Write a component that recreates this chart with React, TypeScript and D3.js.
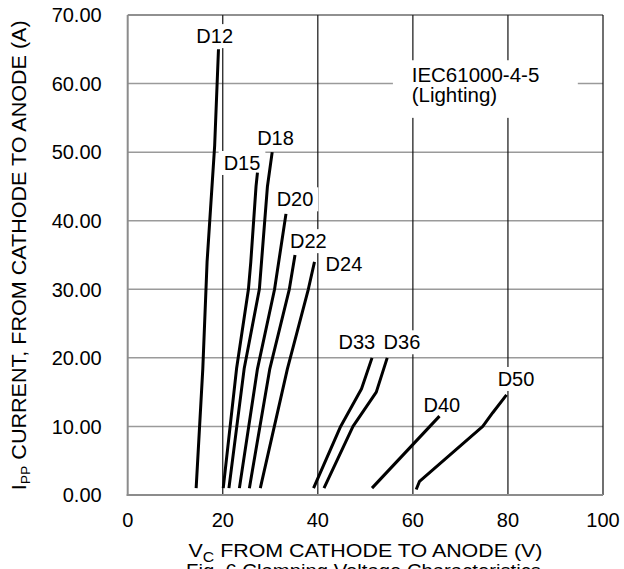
import { useRef, useEffect } from 'react';
import * as d3 from 'd3';

// device names and the clamping curves (V in volts, I in amps)
const DEVICES = ['D12', 'D15', 'D18', 'D20', 'D22', 'D24', 'D33', 'D36', 'D40', 'D50'];

const D12_V = [14.4, 15.8, 16.7, 18.3, 19.1];
const D12_I = [1, 18.4, 34, 51, 65];
const D15_V = [20.1, 22.9, 25.4, 25.9, 27.0, 27.3];
const D15_I = [1, 18.4, 30, 34, 45, 47];
const D18_V = [21.3, 24.5, 27.7, 29.4, 30.4];
const D18_I = [1, 18.4, 30, 45, 50];
const D20_V = [23.5, 27.3, 30.9, 33.3];
const D20_I = [1, 18.4, 30, 41];
const D22_V = [25.6, 29.9, 34.0, 35.2];
const D22_I = [1, 18.4, 30, 35];
const D24_V = [27.9, 33.6, 38.0, 39.3];
const D24_I = [1, 18.4, 30, 34];
const D33_V = [39.1, 44.8, 49.2, 51.4];
const D33_I = [1, 10, 15.5, 20];
const D36_V = [41.3, 47.4, 52.3, 54.6];
const D36_I = [1, 10, 15, 20];
const D40_V = [51.4, 65.6];
const D40_I = [1, 11.5];
const D50_V = [60.7, 61.4, 74.7, 76.8, 79.7];
const D50_I = [0.8, 2, 10, 12, 14.6];

const VOLTS = [D12_V, D15_V, D18_V, D20_V, D22_V, D24_V, D33_V, D36_V, D40_V, D50_V];
const AMPS = [D12_I, D15_I, D18_I, D20_I, D22_I, D24_I, D33_I, D36_I, D40_I, D50_I];

const X_TICKS = [0, 20, 40, 60, 80, 100];
const Y_TICKS = [0, 10, 20, 30, 40, 50, 60, 70];

const NOTE_LINES = ['IEC61000-4-5', '(Lighting)'];

const W = 624, H = 569;
const FONT = '"Liberation Sans", Arial, sans-serif';

export default function App() {
  const svgRef = useRef<SVGSVGElement>(null);

  useEffect(() => {
    const svg = d3.select(svgRef.current);
    svg.selectAll('*').remove();

    const x = d3.scaleLinear().domain([0, 100]).range([127.7, 603]);
    const y = d3.scaleLinear().domain([0, 70]).range([495, 15]);

    svg.append('rect').attr('width', W).attr('height', H).attr('fill', '#fff');

    // grid: grey horizontals, black verticals
    svg.append('g').selectAll('line')
      .data(Y_TICKS.slice(1, -1))
      .join('line')
      .attr('x1', x(0)).attr('x2', x(100))
      .attr('y1', d => y(d)).attr('y2', d => y(d))
      .attr('stroke', '#9a9a9a').attr('stroke-width', 1.5);

    svg.append('g').selectAll('line')
      .data(X_TICKS.slice(1, -1))
      .join('line')
      .attr('x1', d => x(d)).attr('x2', d => x(d))
      .attr('y1', y(0)).attr('y2', y(70))
      .attr('stroke', '#111').attr('stroke-width', 1.2);

    // frame
    const frame = svg.append('g');
    frame.append('line').attr('x1', x(0)).attr('x2', x(100)).attr('y1', y(70)).attr('y2', y(70))
      .attr('stroke', '#222').attr('stroke-width', 1.2);
    frame.append('line').attr('x1', x(100)).attr('x2', x(100)).attr('y1', y(0)).attr('y2', y(70))
      .attr('stroke', '#111').attr('stroke-width', 1.2);
    frame.append('line').attr('x1', x(0)).attr('x2', x(0)).attr('y1', y(0) + 1).attr('y2', y(70))
      .attr('stroke', '#8c8c8c').attr('stroke-width', 2);
    frame.append('line').attr('x1', x(0) - 1).attr('x2', x(100)).attr('y1', y(0)).attr('y2', y(0))
      .attr('stroke', '#8c8c8c').attr('stroke-width', 2);

    const boxes = svg.append('g');
    const curves = svg.append('g');
    const texts = svg.append('g').attr('font-family', FONT).attr('fill', '#000');

    // note box
    boxes.append('rect')
      .attr('x', x(55.8)).attr('y', y(63.4))
      .attr('width', x(94.7) - x(55.8)).attr('height', y(55) - y(63.4))
      .attr('fill', '#fff');
    texts.selectAll('text.note')
      .data(NOTE_LINES)
      .join('text')
      .attr('class', 'note')
      .attr('x', x(59.75))
      .attr('y', (_, i) => y(60.2) + i * 19.7)
      .attr('font-size', 20.5)
      .text(d => d);

    const line = d3.line<[number, number]>()
      .x(d => x(d[0]))
      .y(d => y(d[1]))
      .curve(d3.curveLinear);

    curves.selectAll('path')
      .data(DEVICES.map((_, k) => VOLTS[k].map((v, j) => [v, AMPS[k][j]] as [number, number])))
      .join('path')
      .attr('d', line)
      .attr('fill', 'none')
      .attr('stroke', '#000')
      .attr('stroke-width', 3)
      .attr('stroke-linejoin', 'round')
      .attr('stroke-linecap', 'butt');

    // where each device name sits, in data units (centre, baseline)
    const labelAt: [number, number][] = [
      [18.3, 65.9], [24.05, 47.4], [31.1, 51.0], [35.2, 42.1], [38.0, 36.0],
      [45.5, 32.6], [48.2, 21.25], [57.7, 21.25], [66.1, 12.15], [81.7, 15.9],
    ];
    DEVICES.forEach((name, k) => {
      const t = texts.append('text')
        .attr('x', x(labelAt[k][0]))
        .attr('y', y(labelAt[k][1]))
        .attr('text-anchor', 'middle')
        .attr('font-size', 20)
        .text(name);
      const b = (t.node() as SVGTextElement).getBBox();
      boxes.append('rect')
        .attr('x', b.x - 5).attr('y', b.y - 1)
        .attr('width', b.width + 10).attr('height', b.height + 2)
        .attr('fill', '#fff');
    });

    // tick labels
    texts.selectAll('text.yt')
      .data(Y_TICKS)
      .join('text')
      .attr('class', 'yt')
      .attr('x', 101.7)
      .attr('y', d => y(d) + 7.3)
      .attr('text-anchor', 'end')
      .attr('font-size', 20)
      .text(d => d3.format('.2f')(d));

    texts.selectAll('text.xt')
      .data(X_TICKS)
      .join('text')
      .attr('class', 'xt')
      .attr('x', d => x(d))
      .attr('y', 526.7)
      .attr('text-anchor', 'middle')
      .attr('font-size', 20)
      .text(d => String(d));

    // axis titles
    const xt = texts.append('text')
      .attr('x', 365.5).attr('y', 557.3)
      .attr('text-anchor', 'middle')
      .attr('font-size', 19)
      .attr('textLength', 354)
      .attr('lengthAdjust', 'spacingAndGlyphs');
    xt.append('tspan').text('V');
    xt.append('tspan').attr('font-size', 14).attr('dy', 4.4).text('C');
    xt.append('tspan').attr('dy', -4.4).text(' FROM CATHODE TO ANODE (V)');

    const yt = texts.append('text')
      .attr('transform', `translate(25.5,${(490 + 20.7) / 2}) rotate(-90)`)
      .attr('text-anchor', 'middle')
      .attr('font-size', 20)
      .attr('textLength', 470)
      .attr('lengthAdjust', 'spacingAndGlyphs');
    yt.append('tspan').text('I');
    yt.append('tspan').attr('font-size', 13).attr('dy', 4.5).text('PP');
    yt.append('tspan').attr('dy', -4.5).text(' CURRENT, FROM CATHODE TO ANODE (A)');

    texts.append('text')
      .attr('x', 363.5).attr('y', 577)
      .attr('text-anchor', 'middle')
      .attr('font-size', 19)
      .attr('textLength', 355)
      .attr('lengthAdjust', 'spacingAndGlyphs')
      .text('Fig. 6 Clamping Voltage Characteristics');
  }, []);

  return (
    <svg
      ref={svgRef}
      width={W}
      height={H}
      style={{ position: 'absolute', left: 0, top: 0, display: 'block' }}
    />
  );
}
